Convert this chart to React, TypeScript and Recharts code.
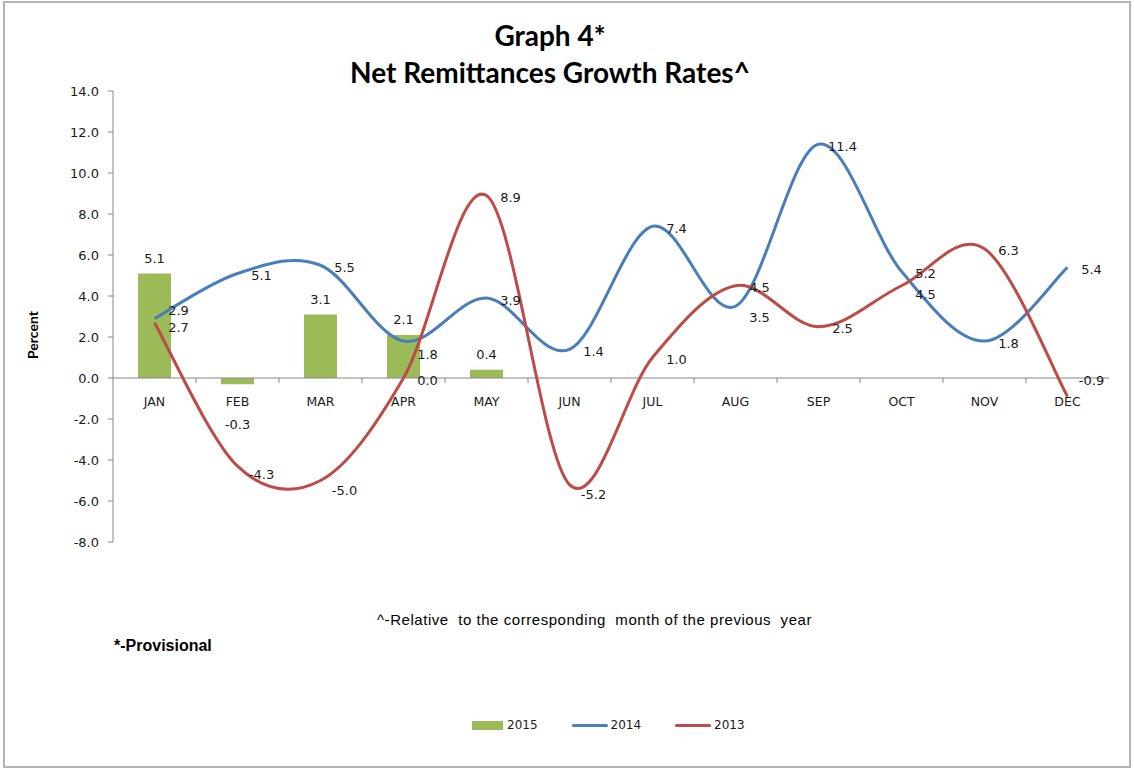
import React from 'react';
import {
  ComposedChart,
  Bar,
  Line,
  XAxis,
  YAxis,
  ReferenceLine,
  LabelList,
  Legend,
} from 'recharts';

// ─── Data ─────────────────────────────────────────────────────────────────────

const MONTHS = ['JAN', 'FEB', 'MAR', 'APR', 'MAY', 'JUN', 'JUL', 'AUG', 'SEP', 'OCT', 'NOV', 'DEC'];

const GROWTH_2015 = [5.1, -0.3, 3.1, 2.1, 0.4, null, null, null, null, null, null, null];
const GROWTH_2014 = [2.9, 5.1, 5.5, 1.8, 3.9, 1.4, 7.4, 3.5, 11.4, 5.2, 1.8, 5.4];
const GROWTH_2013 = [2.7, -4.3, -5.0, 0.0, 8.9, -5.2, 1.0, 4.5, 2.5, 4.5, 6.3, -0.9];

const Y_TICKS = [-8, -6, -4, -2, 0, 2, 4, 6, 8, 10, 12, 14];

const chartData = MONTHS.map((month, i) => ({
  month,
  y2015: GROWTH_2015[i],
  y2014: GROWTH_2014[i],
  y2013: GROWTH_2013[i],
}));

// ─── Layout / style ───────────────────────────────────────────────────────────

const W = 1134;
const H = 771;
const PLOT_LEFT = 113;
const PLOT_TOP = 91;
const PLOT_W = 996;
const PLOT_H = 451;
const Y_AXIS_W = 60;
const X_AXIS_H = 30;
const Y_MIN = -8;
const Y_MAX = 14;
const ZERO_Y = PLOT_TOP + (PLOT_H * Y_MAX) / (Y_MAX - Y_MIN);
const BAND = PLOT_W / MONTHS.length;

const GREEN = '#9bbb59';
const BLUE = '#4a7ebb';
const RED = '#be4b48';
const AXIS = '#868686';
const TEXT = '#1a1a1a';
const LABEL_FONT = '"DejaVu Sans", Verdana, sans-serif';
const TITLE_FONT = 'Lato, "Open Sans", sans-serif';
const NOTE_FONT = '"Liberation Sans", Arial, sans-serif';

// small vertical nudges for line labels that Excel moved off the curve
const LABEL_NUDGE: Record<string, number> = {
  'y2014-0': -10,
  'y2013-0': 3,
  'y2014-3': 11,
  'y2014-7': 9,
  'y2013-1': 6,
  'y2013-2': 8,
  'y2013-5': 8,
  'y2013-9': 7,
  'y2013-11': -18,
};

// Excel-style smoothed line (Catmull-Rom as cubic Bezier)
const excelSmooth = (context: any) => {
  let pts: [number, number][] = [];
  return {
    areaStart() {},
    areaEnd() {},
    lineStart() {
      pts = [];
    },
    point(x: number, y: number) {
      pts.push([+x, +y]);
    },
    lineEnd() {
      if (!pts.length) return;
      context.moveTo(pts[0][0], pts[0][1]);
      for (let i = 0; i < pts.length - 1; i++) {
        const p0 = pts[i - 1] ?? pts[i];
        const p1 = pts[i];
        const p2 = pts[i + 1];
        const p3 = pts[i + 2] ?? pts[i + 1];
        context.bezierCurveTo(
          p1[0] + (p2[0] - p0[0]) / 6,
          p1[1] + (p2[1] - p0[1]) / 6,
          p2[0] - (p3[0] - p1[0]) / 6,
          p2[1] - (p3[1] - p1[1]) / 6,
          p2[0],
          p2[1],
        );
      }
    },
  };
};

// ─── Pieces ───────────────────────────────────────────────────────────────────

function MonthTick({ x, payload, index }: any) {
  return (
    <g>
      {index > 0 && (
        <line x1={x - BAND / 2} x2={x - BAND / 2} y1={ZERO_Y} y2={ZERO_Y + 5} stroke={AXIS} />
      )}
      <text
        x={x}
        y={ZERO_Y + 23}
        textAnchor="middle"
        dominantBaseline="central"
        fontFamily={LABEL_FONT}
        fontSize={12.5}
        fill={TEXT}
      >
        {payload.value}
      </text>
    </g>
  );
}

function BarValue({ x, y, width, height, value }: any) {
  if (value == null) return null;
  const top = Math.min(y, y + height);
  const bottom = Math.max(y, y + height);
  const ty = value >= 0 ? top - 15 : bottom + 40;
  return (
    <text
      x={x + width / 2}
      y={ty}
      textAnchor="middle"
      dominantBaseline="central"
      fontFamily={LABEL_FONT}
      fontSize={13}
      fill={TEXT}
    >
      {value.toFixed(1)}
    </text>
  );
}

const lineValue = (key: string) =>
  function LineValue({ x, y, value, index }: any) {
    if (value == null) return null;
    const nudge = LABEL_NUDGE[`${key}-${index}`] ?? 0;
    return (
      <text
        x={x + 24}
        y={y + 2 + nudge}
        textAnchor="middle"
        dominantBaseline="central"
        fontFamily={LABEL_FONT}
        fontSize={13}
        fill={TEXT}
      >
        {Number(value).toFixed(1)}
      </text>
    );
  };

const LEGEND_ITEMS = [
  { label: '2015', color: GREEN, kind: 'box' },
  { label: '2014', color: BLUE, kind: 'line' },
  { label: '2013', color: RED, kind: 'line' },
];

function LegendBox() {
  return (
    <div style={{ display: 'flex', alignItems: 'center', fontFamily: LABEL_FONT, fontSize: 12, color: TEXT }}>
      {LEGEND_ITEMS.map((it, i) => (
        <div key={it.label} style={{ display: 'flex', alignItems: 'center', marginLeft: i === 0 ? 0 : 34 }}>
          {it.kind === 'box' ? (
            <div style={{ width: 31, height: 9, background: it.color, marginRight: 4 }} />
          ) : (
            <div style={{ width: 36, height: 3, background: it.color, borderRadius: 2, marginRight: 3 }} />
          )}
          <span>{it.label}</span>
        </div>
      ))}
    </div>
  );
}

// ─── Chart ────────────────────────────────────────────────────────────────────

export default function App() {
  return (
    <div style={{ position: 'absolute', left: 0, top: 0, width: W, height: H, background: '#fff' }}>
      <div
        style={{
          position: 'absolute',
          left: 3,
          top: 1,
          width: W - 6,
          height: H - 4,
          border: '2px solid #b4b4b4',
          boxSizing: 'border-box',
        }}
      />

      <div
        style={{
          position: 'absolute',
          left: 0,
          top: 17,
          width: 1100,
          textAlign: 'center',
          fontFamily: TITLE_FONT,
          fontWeight: 700,
          fontSize: 28,
          lineHeight: '37px',
          color: '#000',
        }}
      >
        Graph 4*
        <br />
        Net Remittances Growth Rates^
      </div>

      <div
        style={{
          position: 'absolute',
          left: 32,
          top: 335,
          transform: 'translate(-50%, -50%) rotate(-90deg)',
          fontFamily: TITLE_FONT,
          fontWeight: 700,
          fontSize: 14,
          color: '#000',
          whiteSpace: 'nowrap',
        }}
      >
        Percent
      </div>

      <div style={{ position: 'absolute', left: 0, top: 0 }}>
        <ComposedChart
          width={W}
          height={H}
          data={chartData}
          margin={{
            top: PLOT_TOP,
            right: W - PLOT_LEFT - PLOT_W,
            bottom: H - PLOT_TOP - PLOT_H - X_AXIS_H,
            left: PLOT_LEFT - Y_AXIS_W,
          }}
          barCategoryGap={0}
        >
          <XAxis
            dataKey="month"
            height={X_AXIS_H}
            axisLine={false}
            tickLine={false}
            tick={<MonthTick />}
            interval={0}
          />
          <YAxis
            width={Y_AXIS_W}
            domain={[Y_MIN, Y_MAX]}
            ticks={Y_TICKS}
            tickFormatter={(v: number) => v.toFixed(1)}
            axisLine={{ stroke: AXIS }}
            tickLine={{ stroke: AXIS }}
            tickSize={5}
            tickMargin={9}
            tick={{ fill: TEXT, fontSize: 13, fontFamily: LABEL_FONT }}
            allowDataOverflow
          />
          <ReferenceLine y={0} stroke={AXIS} strokeWidth={1} />

          <Bar dataKey="y2015" name="2015" fill={GREEN} barSize={33} isAnimationActive={false}>
            <LabelList dataKey="y2015" content={<BarValue />} />
          </Bar>
          <Line
            dataKey="y2014"
            name="2014"
            type={excelSmooth as any}
            stroke={BLUE}
            strokeWidth={3}
            dot={false}
            activeDot={false}
            isAnimationActive={false}
          >
            <LabelList dataKey="y2014" content={lineValue('y2014')} />
          </Line>
          <Line
            dataKey="y2013"
            name="2013"
            type={excelSmooth as any}
            stroke={RED}
            strokeWidth={3}
            dot={false}
            activeDot={false}
            isAnimationActive={false}
          >
            <LabelList dataKey="y2013" content={lineValue('y2013')} />
          </Line>

          <Legend
            layout="horizontal"
            verticalAlign="middle"
            align="center"
            content={<LegendBox />}
            wrapperStyle={{ position: 'absolute', top: 718, left: 472, width: 'auto' }}
          />
        </ComposedChart>
      </div>

      <div
        style={{
          position: 'absolute',
          left: 377,
          top: 611,
          fontFamily: NOTE_FONT,
          fontSize: 15,
          letterSpacing: 0.55,
          color: '#000',
          whiteSpace: 'pre',
        }}
      >
        {'^-Relative  to the corresponding  month of the previous  year'}
      </div>

      <div
        style={{
          position: 'absolute',
          left: 114,
          top: 637,
          fontFamily: NOTE_FONT,
          fontWeight: 700,
          fontSize: 16,
          color: '#000',
        }}
      >
        *-Provisional
      </div>
    </div>
  );
}
